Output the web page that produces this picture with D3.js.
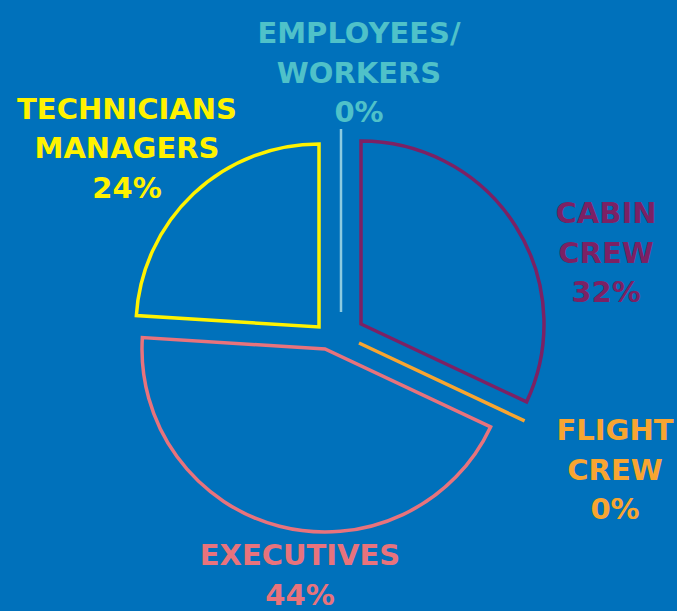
<!DOCTYPE html>
<html>
<head>
<meta charset="utf-8">
<script src="https://cdn.jsdelivr.net/npm/d3@7"></script>
<style>
  html, body { margin: 0; padding: 0; background: #0071bb; }
  svg { display: block; }
  text { font-family: "DejaVu Sans", sans-serif; font-weight: bold; }
</style>
</head>
<body>
<svg id="chart" width="677" height="611"></svg>
<script>
// ---- data ----
const categories = ["EMPLOYEES/ WORKERS", "CABIN CREW", "FLIGHT CREW", "EXECUTIVES", "TECHNICIANS MANAGERS"];
const labelLines = [["EMPLOYEES/", "WORKERS"], ["CABIN", "CREW"], ["FLIGHT", "CREW"], ["EXECUTIVES"], ["TECHNICIANS", "MANAGERS"]];
const values = [0, 32, 0, 44, 24];

// ---- styles / layout ----
const strokeColors = ["#8ccbe0", "#7c2164", "#f8a531", "#e8737c", "#fff200"];
const textColors   = ["#4fc1c9", "#7c2164", "#f8a531", "#e8737c", "#fff200"];
const strokeWidths = [2.5, 3.5, 3.5, 3.5, 3.5];
const sliceOffsets = [[1, -24], [21, -12], [19, 7], [-15, 13], [-21, -9]];
const labelAnchors = [[359, 43], [606, 223], [615, 440], [300, 565], [127, 118.5]];
const center = [340, 336];
const radius = 183;
const lineHeight = 39.7;

const svg = d3.select("#chart");
svg.append("rect").attr("width", 677).attr("height", 611).attr("fill", "#0071bb");

const pie = d3.pie().sort(null).value(d => d)(values);
const arc = d3.arc().innerRadius(0).outerRadius(radius);

const g = svg.append("g").attr("transform", `translate(${center[0]},${center[1]})`);

g.selectAll("path.slice")
  .data(pie)
  .join("path")
  .attr("class", "slice")
  .attr("transform", (d, i) => `translate(${sliceOffsets[i][0]},${sliceOffsets[i][1]})`)
  .attr("d", arc)
  .attr("fill", "none")
  .attr("stroke", (d, i) => strokeColors[i])
  .attr("stroke-width", (d, i) => strokeWidths[i])
  .attr("stroke-linejoin", "miter")
  .attr("stroke-miterlimit", 10);

const labels = svg.selectAll("text.lbl")
  .data(categories)
  .join("text")
  .attr("class", "lbl")
  .attr("text-anchor", "middle")
  .attr("font-size", 29)
  .attr("fill", (d, i) => textColors[i]);

labels.each(function(d, i) {
  const lines = labelLines[i].concat([values[i] + "%"]);
  d3.select(this).selectAll("tspan")
    .data(lines)
    .join("tspan")
    .attr("x", labelAnchors[i][0])
    .attr("y", (l, j) => labelAnchors[i][1] + j * lineHeight)
    .text(l => l);
});
</script>
</body>
</html>
